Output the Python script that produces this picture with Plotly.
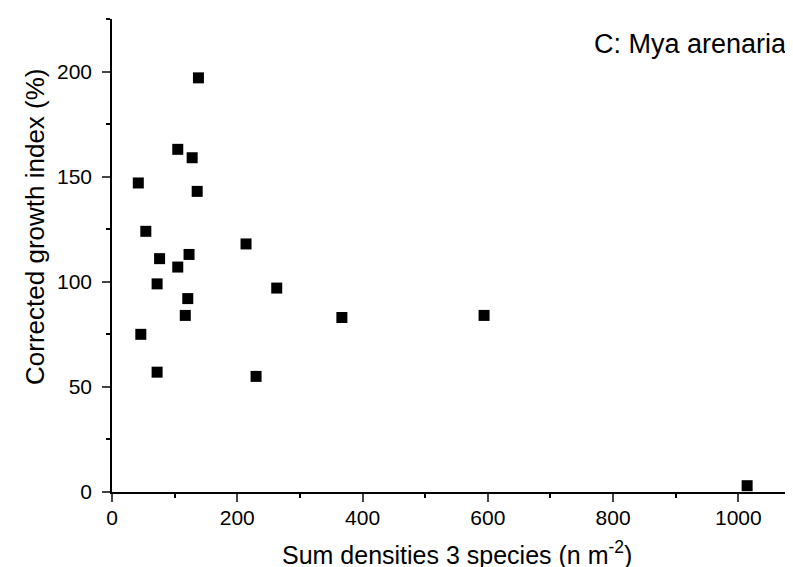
import plotly.graph_objects as go

density = [138, 105, 128, 42, 136, 54, 214, 76, 123, 105, 72, 263, 121, 117, 46, 72, 230, 367, 594, 1014]
growth = [197, 163, 159, 147, 143, 124, 118, 111, 113, 107, 99, 97, 92, 84, 75, 57, 55, 83, 84, 3]

x_ticks = [0, 200, 400, 600, 800, 1000]
y_ticks = [0, 50, 100, 150, 200]

x_title = "Sum densities 3 species (n m<sup>-2</sup>)"
y_title = "Corrected growth index (%)"
panel_label = "C: Mya arenaria"

FONT = "Liberation Sans, Arial, sans-serif"

fig = go.Figure()
fig.add_trace(go.Scatter(
    x=density, y=growth, mode="markers",
    marker=dict(symbol="square", size=11, color="black", line=dict(width=0)),
    showlegend=False, cliponaxis=False,
))

fig.update_layout(
    width=793, height=567,
    margin=dict(l=104, r=0, t=11, b=83),
    paper_bgcolor="white", plot_bgcolor="white",
    font=dict(family=FONT, color="black", size=21),
    xaxis=dict(
        range=[0, 1100], tickvals=x_ticks, ticks="outside", ticklen=8, tickwidth=1.5,
        showline=True, linecolor="black", linewidth=1.5, showgrid=False, zeroline=False,
        tickfont=dict(size=21), ticklabelstandoff=-2,
        minor=dict(dtick=100, tick0=0, ticks="outside", ticklen=4, tickwidth=1.5, tickcolor="black"),
    ),
    yaxis=dict(
        range=[0, 225], tickvals=y_ticks, ticks="outside", ticklen=8, tickwidth=1.5,
        showline=True, linecolor="black", linewidth=1.5, showgrid=False, zeroline=False,
        tickfont=dict(size=21), ticklabelstandoff=6,
        minor=dict(dtick=25, tick0=0, ticks="outside", ticklen=4, tickwidth=1.5, tickcolor="black"),
    ),
    annotations=[
        dict(text=panel_label, xref="paper", yref="paper", x=0.983, y=0.947,
             xanchor="right", yanchor="middle", showarrow=False, font=dict(size=27)),
        dict(text=x_title, xref="paper", yref="paper", x=0.5, y=-0.168,
             xanchor="center", yanchor="bottom", showarrow=False, font=dict(size=25)),
        dict(text=y_title, xref="paper", yref="paper", x=-0.112, y=0.56, textangle=-90,
             xanchor="center", yanchor="middle", showarrow=False, font=dict(size=26)),
    ],
)

fig.write_html("out.html")
